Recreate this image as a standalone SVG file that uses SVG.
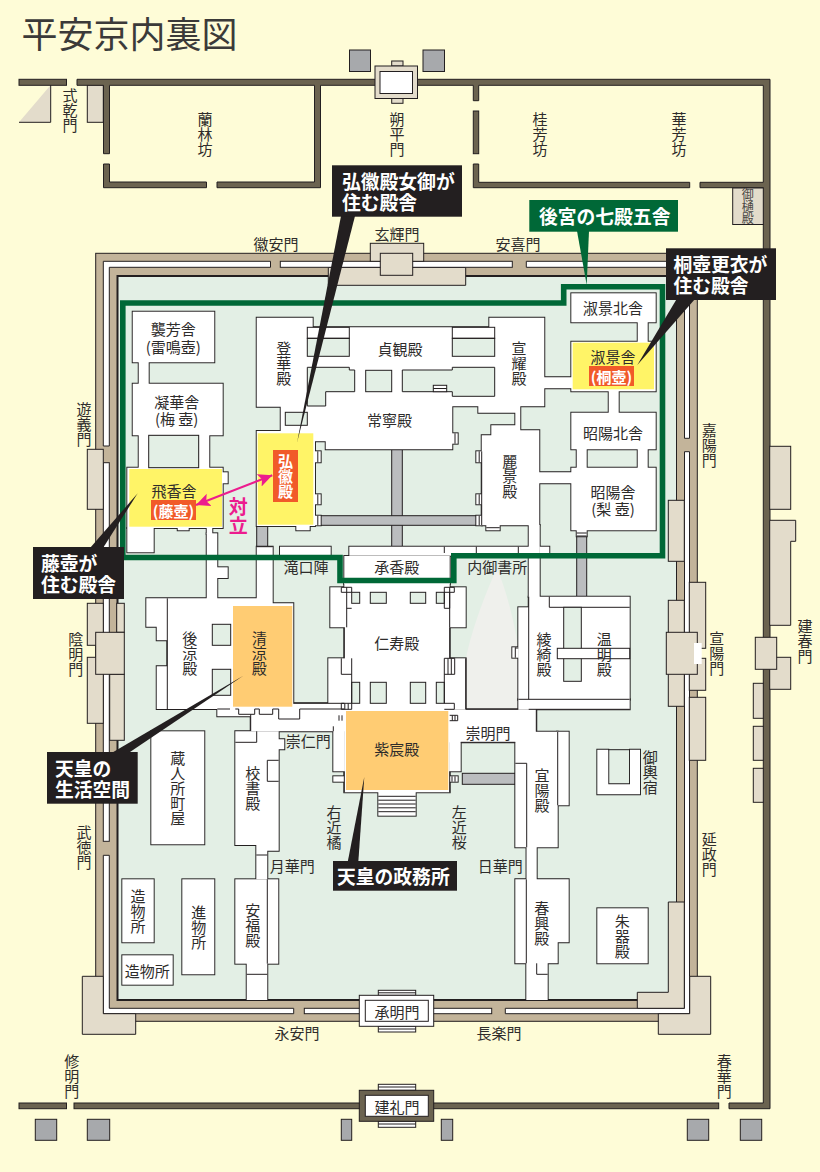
<svg xmlns="http://www.w3.org/2000/svg" width="820" height="1172" viewBox="0 0 820 1172">
<style>
text{font-family:"Noto Sans CJK JP","Noto Sans",sans-serif;font-size:15px;fill:#2e2c2b;text-anchor:middle;dominant-baseline:central}
.v{writing-mode:vertical-rl}
.s{font-size:12px;fill:#4a4845}
.w{fill:#6b6350;stroke:#231f20;stroke-width:1}
.c{fill:#e3dccb;stroke:#231f20;stroke-width:1}
.e{fill:#fff;stroke:#231f20;stroke-width:1}
.g{fill:#a7a9ac;stroke:#231f20;stroke-width:1}
.r{fill:#bbbdbf;stroke:#231f20;stroke-width:1}
.h{fill:#e3efe5;stroke:#231f20;stroke-width:1}
.l{fill:none;stroke:#231f20;stroke-width:1}
.k{fill:#231f20}
.n{fill:#fff;font-size:18.8px;font-weight:700;text-anchor:start}
.m{fill:#fff;font-weight:700}
</style>
<defs>
<marker id="ah" viewBox="0 -7 15 14" markerWidth="15" markerHeight="14" refX="14" refY="0" markerUnits="userSpaceOnUse" orient="auto-start-reverse"><path d="M14,0 L0,-6.5 L3,0 L0,6.5Z" fill="#ec1c8e"/></marker>
<g id="white">
<rect x="132.7" y="311.7" width="81.6" height="50.6"/><rect x="138.7" y="362" width="10" height="22"/><rect x="132.7" y="383.7" width="90" height="51.6"/><rect x="138.7" y="435" width="10.6" height="33"/><rect x="198.7" y="435" width="10.6" height="33"/><rect x="127.3" y="467.7" width="95.4" height="60.3"/><rect x="222" y="472.3" width="5.7" height="11"/><rect x="127.3" y="528" width="26.4" height="24.3"/><rect x="177.7" y="528" width="11" height="2.3"/><rect x="206.7" y="528" width="5.6" height="6"/><rect x="206.7" y="533.3" width="10.6" height="66"/><rect x="217" y="567.3" width="10.7" height="10.7"/>
<path d="M146.3,598.3H256.7V546.7H272.7V603.3H293.3V703.3H345V731.3H250.7V716.3H217.3V709H156.7V666.3H167.3V640.3H156.7V626.7H146.3Z"/>
<rect x="344.3" y="583" width="105.4" height="128"/><rect x="330.3" y="587.3" width="16.4" height="40"/><rect x="346.7" y="587.3" width="5" height="21"/><rect x="449.7" y="587.3" width="16" height="40"/><rect x="328.3" y="658.3" width="23.4" height="45.5"/><rect x="444.3" y="658.3" width="21.4" height="51"/>
<rect x="344.3" y="709" width="105.4" height="83.3"/><rect x="333.3" y="726.3" width="11.4" height="45"/><rect x="449.3" y="726.3" width="11.4" height="45"/><rect x="336" y="715.3" width="9" height="5.4"/><rect x="333.3" y="776.3" width="11.4" height="5.4"/><rect x="449.3" y="776.3" width="8.4" height="5.4"/><rect x="378.3" y="792" width="37.4" height="23.7"/>
<rect x="449" y="709.3" width="87.3" height="33"/><rect x="518.3" y="699.3" width="111.4" height="10"/><rect x="528.7" y="596.7" width="101" height="103"/><rect x="518.3" y="607.3" width="10.7" height="92.5"/><rect x="512.3" y="647.3" width="6.4" height="10.4"/><rect x="528.7" y="525" width="11" height="72"/><rect x="539.4" y="546.7" width="9.9" height="9"/>
<rect x="349.3" y="546.7" width="179.7" height="9"/><rect x="280" y="546.7" width="50.7" height="9"/><rect x="344.3" y="556" width="105.4" height="28"/>
<path d="M256.7,317.7H312.7V327.3H489.3V317.7H544.3V377.3H572V388.3H544.3V406.3H520.3V430.3H539.3V472.3H572V483.3H539.3V525.3H481.7V435.3H491.3V425.3H515.3V412.7H478.3V406.3H452.3V449.3H325.7V441.3H315V431H280.7V406.7H256.7Z"/>
<rect x="256.7" y="431" width="58.3" height="95"/><rect x="315" y="451.3" width="5.7" height="11"/><rect x="315" y="494.3" width="5.7" height="10"/><rect x="315" y="515.7" width="5.7" height="9.6"/><rect x="296.3" y="526" width="13.4" height="4.3"/><rect x="452" y="433.3" width="5.7" height="10.4"/><rect x="476.3" y="451.3" width="5.7" height="11"/><rect x="476.3" y="494.3" width="5.7" height="10"/><rect x="476.3" y="515.7" width="5.7" height="9.6"/><rect x="486.3" y="525" width="13.4" height="5.3"/>
<rect x="571.3" y="293.3" width="84.4" height="29"/><rect x="637.7" y="322" width="10" height="20"/><rect x="571.3" y="341.7" width="84.4" height="49.6"/><rect x="608.7" y="391" width="10" height="22"/><rect x="571.3" y="412.7" width="84.4" height="36.6"/><rect x="576.7" y="449" width="10" height="19"/><rect x="637.7" y="449" width="10" height="19"/><rect x="571.3" y="467.7" width="84.4" height="62.6"/><rect x="576.7" y="530" width="10" height="6.3"/>
<rect x="151.3" y="731.3" width="53" height="113"/>
<path d="M235.3,731.3H278.7V739.3H284.3V749.3H278.7V850.7H267.3V879.3H256.3V845H235.3Z"/>
<rect x="235.3" y="879.3" width="43" height="84.4"/><rect x="246.7" y="963" width="20.6" height="37"/>
<rect x="122.3" y="879.3" width="31.4" height="63"/><rect x="122.3" y="955.3" width="50.4" height="29.4"/><rect x="182.3" y="879.3" width="32" height="95"/>
<rect x="515.3" y="731.7" width="42.4" height="115.6"/><rect x="557" y="731.7" width="11.7" height="73.6"/><rect x="526.5" y="847" width="10.2" height="33"/>
<path d="M515.3,879.3H568.7V942.3H557.7V963.3H547.7V1000H526.3V963.3H515.3Z"/>
<rect x="597.3" y="908.3" width="50.4" height="55"/>
<path d="M597.3,749.7H608.3V784.3H630V749.7H640V794.3H597.3Z"/>
</g>
</defs>
<rect id="background" width="820" height="1172" fill="#fefcd7"/>
<text x="129.5" y="32" style="font-size:36px;fill:#3b3a39">平安京内裏図</text>

<g id="outer-wall">
<path d="M19,122.3 L50.7,85 V122.3Z" fill="#e3dccb"/>
<path class="l" d="M50.7,85V122.3H19"/>
<rect class="c" x="87.3" y="85" width="16" height="37.3"/>
<rect class="w" x="19" y="79.3" width="47.5" height="6"/>
<path class="w" d="M77,79.3H380V85.3H320.5V187.7H217V182H314.5V85.3H109.5V153.7H103.5V85.3H77Z"/>
<path class="w" d="M103.5,164H109.5V182H206.5V187.7H103.5Z"/>
<path class="w" d="M415,79.3H770V1108.7H729V1103H763.3V187.7H700V182.3H763.3V85.3H478.7V100.7H473.3V85.3H415Z"/>
<rect class="w" x="473.3" y="111" width="5.4" height="42.7"/>
<path class="w" d="M473.3,164H478.7V182.3H689.7V187.7H473.3Z"/>
<rect class="w" x="19" y="1103" width="47.5" height="5.7"/>
<rect class="w" x="74" y="1103" width="644.7" height="5.7"/>
<rect class="c" x="732.7" y="188" width="30.6" height="36.5"/>
<rect class="g" x="349.5" y="50" width="21" height="21.5"/><rect class="g" x="423" y="50" width="21.5" height="21.5"/>
<rect class="c" x="391.7" y="61" width="11.3" height="5"/><rect class="c" x="391.7" y="98.3" width="11.3" height="5"/>
<rect class="c" x="375" y="66" width="42.5" height="32.5"/><rect class="e" x="380" y="71.5" width="32.5" height="22"/>
<rect class="g" x="35.3" y="1119.3" width="21.4" height="21"/><rect class="g" x="87.3" y="1119.3" width="22.4" height="21"/><rect class="g" x="341.3" y="1119.3" width="10.4" height="21"/><rect class="g" x="441.3" y="1119.3" width="11.4" height="21"/><rect class="g" x="687.3" y="1119.3" width="21.4" height="21"/><rect class="g" x="740.3" y="1119.3" width="21.4" height="21"/>
<rect class="c" x="769.7" y="446.3" width="21" height="63"/>
<path class="c" d="M769.7,520.3H795.7V541.3H790.7V625.3H769.7Z"/>
<rect class="c" x="769.7" y="657.3" width="21" height="32"/>
<rect class="c" x="755.3" y="637.3" width="21.4" height="32"/>
<rect class="c" x="753.3" y="683.3" width="10" height="35"/><rect class="c" x="753.3" y="726.3" width="10" height="34"/><rect class="c" x="753.3" y="768.3" width="10" height="34"/>
</g>

<g id="compound">
<rect x="95.7" y="253.3" width="601.6" height="768" fill="#c3b49a" stroke="#231f20"/>
<rect x="117.5" y="276" width="559" height="724" fill="#e3efe5"/>
<path d="M676.5,276H117.5V1000H676.5" fill="none" stroke="#231f20" stroke-width="2"/>
<path class="l" d="M676.5,276V1000"/>
<path class="c" d="M328.3,267.5H465.7V285.3H328.3Z"/>
<path class="e" d="M270.5,261.3H103.3V446H109.3V267.3H270.5Z"/>
<rect class="e" x="280.3" y="261.3" width="232" height="6"/>
<path class="e" d="M526.3,261.3H689.5V438.3H684.5V267.3H526.3Z"/>
<path class="e" d="M684.5,451.7H689.5V1013.7H505.3V1008.3H684.5Z"/>
<path class="e" d="M103.3,855.3H109.3V1008.3H293.7V1013.7H103.3Z"/>
<rect class="e" x="103.3" y="462.7" width="6" height="378.6"/>
<rect class="e" x="304.3" y="1008.3" width="187.4" height="5.4"/>
<rect class="c" x="370.3" y="243.3" width="53.4" height="18"/><rect class="c" x="380.3" y="253.3" width="32.4" height="22"/>
<rect class="c" x="87.3" y="449.3" width="16" height="60"/><rect class="c" x="87.3" y="603.3" width="16" height="42"/><rect class="c" x="116.7" y="603.3" width="7.6" height="29"/><rect class="c" x="87.3" y="657.3" width="16" height="66"/><rect class="c" x="109.7" y="674.3" width="14.6" height="66"/><rect class="c" x="95.7" y="632.3" width="28.6" height="42"/>
<rect class="c" x="668.3" y="500.3" width="16" height="61"/><rect class="c" x="689.3" y="582.3" width="16.4" height="66"/><rect class="c" x="668.3" y="600.3" width="16" height="40"/><rect class="c" x="689.3" y="658.3" width="16.4" height="32"/><rect class="c" x="668.3" y="670" width="16" height="36.3"/><rect class="c" x="689.3" y="697.3" width="16.4" height="63"/><rect class="c" x="666.3" y="632.3" width="31" height="42"/><rect x="694" y="643" width="7.7" height="21" fill="#fff"/>
<path class="c" d="M82.3,976.3H103.3V1013.7H135.7V1034.3H82.3Z"/>
<path class="c" d="M658.3,1013.7V1034.3H710.7V976.3H689.7V1013.7Z"/>
<path class="c" d="M637.3,992.3H668.3V902H684.3V1008.3H637.3Z"/>
<rect class="e" x="378.3" y="990.3" width="37.4" height="5"/><rect class="e" x="378.3" y="1026.3" width="37.4" height="5.7"/>
<rect class="e" x="359.3" y="995.3" width="74.4" height="31"/><rect class="e" x="365.3" y="1000.3" width="63" height="21"/>
<rect class="e" x="378.3" y="1084.3" width="37.4" height="6"/><rect class="e" x="378.3" y="1121.3" width="37.4" height="6"/>
<rect class="w" x="359.3" y="1090.3" width="74.4" height="31"/><rect class="e" x="365.3" y="1095.3" width="63" height="21"/>
<path class="l" d="M378.3,992.8H415.7M378.3,1029H415.7M378.3,1087H415.7M378.3,1124H415.7"/>
</g>

<g id="corridors-grey">
<rect class="r" x="391.7" y="449.3" width="10.6" height="97.4"/><rect class="r" x="320" y="515.7" width="162" height="9.6"/><rect class="r" x="256.7" y="525" width="11" height="21.7"/><rect class="r" x="576.7" y="536" width="10" height="60.7"/><rect class="r" x="462.3" y="773.3" width="53" height="11"/>
<path d="M497,568C506,590 515,622 520,660V709H466V658C472,628 486,592 497,568Z" fill="#eff0ec"/>
</g>

<g id="buildings">
<use href="#white" fill="none" stroke="#231f20" stroke-width="1.9"/>
<use href="#white" fill="#fff"/>
<rect class="h" x="148.7" y="435.3" width="50" height="32.4"/>
<rect x="129.3" y="469" width="92.7" height="57.7" fill="#fff467"/>
<rect x="257.7" y="433.3" width="55.6" height="91.4" fill="#fff467"/>
<rect x="572.7" y="342.7" width="81.3" height="46.6" fill="#fff467"/>
<rect x="233" y="606" width="59.3" height="100.7" fill="#ffcc73"/>
<rect x="346" y="711" width="102.3" height="79" fill="#ffcc73"/>
<rect class="h" x="212.3" y="624.3" width="18.4" height="21"/><rect class="h" x="212.3" y="669.3" width="18.4" height="26"/>
<rect class="h" x="307.3" y="338.3" width="42" height="18"/><rect class="l" x="307.3" y="327.3" width="42" height="11"/>
<path class="h" d="M307.3,367.3H349.3V370H354.7V391.7H325.7V406H307.3Z"/>
<rect class="h" x="285.3" y="412.3" width="22" height="13"/>
<rect class="h" x="365.7" y="370.3" width="26" height="21.4"/>
<rect class="h" x="452.3" y="338.3" width="42.4" height="18"/><rect class="l" x="452.3" y="327.3" width="42.4" height="11"/>
<path class="h" d="M402.3,370H452.3V367.3H494.7V396.3H452.3V391.7H402.3Z"/>
<rect class="e" x="433.3" y="385.3" width="13.4" height="6.4"/>
<path class="l" d="M433.3,388.5H446.7M317.8,451.3V462.3M317.8,494.3V504.3M317.8,515.7V525.3M455,433.3V443.7M479.2,451.3V462.3M479.2,494.3V504.3M479.2,515.7V525.3M481.7,451.3V525.3M486.3,527.7H499.7"/>
<rect class="h" x="351.7" y="592.3" width="8" height="11"/><rect class="h" x="370.3" y="592.3" width="16" height="11"/><rect class="h" x="410.3" y="592.3" width="15.4" height="11"/><rect class="h" x="436.3" y="592.3" width="8" height="11"/>
<rect class="h" x="351.7" y="682.3" width="8" height="21"/><rect class="h" x="370.3" y="682.3" width="16" height="21"/><rect class="h" x="410.3" y="682.3" width="15.4" height="21"/><rect class="h" x="436.3" y="682.3" width="8" height="21"/>
<path class="l" d="M346.7,587.3V627.3M346.7,608.3H351.7M341.3,587.3H351.7V592.3H341.3ZM449.7,587.3V627.3M444.3,608.3H449.7V592.3M444.3,587.3H454.3V592.3H444.3ZM444.3,592.3V608.3M351.7,658.3V703.3M341.3,658.3V674.3H351.7M444.3,658.3V703.3M444.3,658.3H454.7V674.3H444.3M448,658.3V674.3M451.3,658.3V674.3M444.3,703.3H454.3V709.3H444.3M341.3,703.3H351.7V709.3H341.3V703.3M344.8,703.3V709.3M348.2,703.3V709.3M344.3,627.3V658.3M449.7,627.3V658.3"/>
<path class="l" d="M167.3,598.3V709M293.3,703.3H344.3M230,709H217.3M235.3,709H238.7V714.3H254.7V709H259.3V714.3H272.7V709H278.7V719H299.7V709H344.3M250.7,714.3V731M333.3,731.3V726.3"/>
<path class="l" d="M339,715.3V720.7M342,715.3V720.7M449.7,715.3H457.7V720.7H449.7M452.3,715.3V720.7M455,715.3V720.7M452,776.3V781.7M455,776.3V781.7M344.3,771.3V792.3M449.7,771.3V792.3M460.7,742.3H515.3M536.3,709.3V731.7M465.7,709.3H518.3M465.7,658.3V709.3M608.3,749.7H630"/>
<path class="l" d="M378.3,796.3H415.7M378.3,800.2H415.7M378.3,804H415.7M378.3,807.8H415.7M378.3,811.7H415.7"/>
<path class="l" d="M528.7,596.7V699.3M518.3,699.3H629.7M549.3,596.7V607.3H629.7M515.3,648H518.3M515.3,657.7V647.3M526.7,763.3V847.3M515.3,763.3H526.7M557.7,731.7V805.3M528.7,709.3H629.7"/>
<rect class="h" x="563.7" y="607.3" width="17.6" height="74"/>
<rect class="e" x="557.3" y="648.3" width="72.4" height="10.4"/>
<path class="l" d="M444.3,546.7V553M476.3,546.7V553M518.3,546.7V553M256.7,546.7H272.7M576.7,536H586.7M576.7,533H586.7M235.3,742.3H256.7V731.3M267.3,760.3V781.3H278.7M267.3,760.3H278.7M256.3,855H267.3M267.3,879.3V963.7M246.7,974.3H267.3M526.3,879.3V963.3M536.7,963.3V974.3H547.7"/>
</g>

<path id="seven-halls" d="M122.8,303H563.7V286.8H662.5V555.8H453.8V580.5H340V557.5H122.8Z" fill="none" stroke="#006837" stroke-width="5.6"/>

<g id="labels">
<text class="v" x="70" y="110">式乾門</text><text class="v" x="205" y="134">蘭林坊</text><text class="v" x="397" y="134">朔平門</text><text class="v" x="540" y="134">桂芳坊</text><text class="v" x="679" y="134">華芳坊</text><text class="v s" x="747.7" y="206.5">御樋殿</text>
<text x="276" y="243">徽安門</text><text x="397" y="233">玄輝門</text><text x="518" y="243">安喜門</text>
<text x="173.3" y="328.3">襲芳舎<tspan x="173.3" dy="17.4">(雷鳴壺)</tspan></text>
<text x="176.7" y="401.7">凝華舎<tspan x="176.7" dy="16.6">(梅 壺)</tspan></text>
<text x="174" y="490">飛香舎</text>
<text class="v" x="283.7" y="363">登華殿</text><text x="400" y="348.7">貞観殿</text><text x="389.5" y="419.3">常寧殿</text><text class="v" x="519" y="363">宣耀殿</text><text class="v" x="509.7" y="476">麗景殿</text>
<text x="613" y="307.3">淑景北舎</text><text x="613" y="356.7">淑景舎</text><text x="613" y="432.7">昭陽北舎</text><text x="613" y="491">昭陽舎<tspan x="613" dy="17.3">(梨 壺)</tspan></text>
<text x="306" y="566.7">滝口陣</text><text x="396.7" y="566.7">承香殿</text><text x="497.3" y="566.7">内御書所</text>
<text x="396.7" y="642.3">仁寿殿</text><text x="396.7" y="748.3">紫宸殿</text>
<text class="v" x="544" y="654">綾綺殿</text><text class="v" x="604.3" y="654">温明殿</text><text class="v" x="542" y="790">宜陽殿</text>
<text x="488" y="732.7">崇明門</text><text x="308.3" y="740.7">崇仁門</text>
<text class="v" x="189.7" y="653">後涼殿</text><text class="v" x="259.3" y="653">清涼殿</text><text class="v" x="177.7" y="788.5">蔵人所町屋</text><text class="v" x="252.7" y="788.5">校書殿</text>
<text class="v" x="334" y="827">右近橘</text><text class="v" x="459.3" y="827">左近桜</text>
<text x="292.3" y="865.7">月華門</text><text x="500.3" y="865.7">日華門</text><text class="v" x="650.3" y="772.5">御輿宿</text>
<text class="v" x="138" y="911">造物所</text><text x="147.3" y="970">造物所</text><text class="v" x="198.7" y="927">進物所</text><text class="v" x="252.7" y="925">安福殿</text><text class="v" x="541.7" y="923.5">春興殿</text><text class="v" x="622.3" y="936">朱器殿</text>
<text x="397" y="1011">承明門</text><text x="397" y="1106.3">建礼門</text><text x="297" y="1032.3">永安門</text><text x="499" y="1032.3">長楽門</text>
<text class="v" x="71.7" y="1076">修明門</text><text class="v" x="724.3" y="1076">春華門</text>
<text class="v" x="84" y="424">遊義門</text><text class="v" x="75.7" y="654">陰明門</text><text class="v" x="84" y="847">武徳門</text>
<text class="v" x="709.3" y="445.5">嘉陽門</text><text class="v" x="716.7" y="653.5">宣陽門</text><text class="v" x="805" y="641.5">建春門</text><text class="v" x="709.3" y="854">延政門</text>
</g>

<g id="red-labels">
<rect x="273" y="450" width="25" height="52" fill="#f15a29"/><text class="v m" x="285.5" y="476">弘徽殿</text>
<rect x="151" y="500" width="45" height="20" fill="#f15a29"/><text class="m" x="173.5" y="510">(藤壺)</text>
<rect x="589" y="366" width="45" height="20" fill="#f15a29"/><text class="m" x="611.5" y="376">(桐壺)</text>
</g>

<g id="connectors">
<polygon class="k" points="341,216 355,216 297,442.7"/>
<polygon fill="#006837" points="577,231 589,231 586.7,285"/>
<polygon class="k" points="676.7,299 695,299 637.3,365"/>
<polygon class="k" points="90,548 103,548 137.7,493.3"/>
<polygon class="k" points="113.3,752 130,752 243.3,675.7"/>
<polygon class="k" points="347.7,862 358.3,862 364.3,776.7"/>
<line x1="196" y1="505" x2="272.3" y2="475.3" stroke="#ec1c8e" stroke-width="2" marker-start="url(#ah)" marker-end="url(#ah)"/>
</g>
<text class="v" x="238.3" y="516" style="font-size:19px;font-weight:700;fill:#ec1c8e">対立</text>

<g id="callout-kokiden"><rect class="k" x="332" y="165.3" width="130" height="51.4"/><text class="n" x="342" y="180">弘徽殿女御が<tspan x="342" dy="21">住む殿舎</tspan></text></g>
<g id="callout-koukyu"><rect x="529.3" y="200" width="148.7" height="31.7" fill="#006837"/><text class="n" x="539" y="215.5">後宮の七殿五舎</text></g>
<g id="callout-kiritsubo"><rect class="k" x="666" y="248.3" width="110" height="51.7"/><text class="n" x="673.5" y="263">桐壺更衣が<tspan x="673.5" dy="21">住む殿舎</tspan></text></g>
<g id="callout-fujitsubo"><rect class="k" x="33" y="547" width="91" height="52"/><text class="n" x="41" y="562">藤壺が<tspan x="41" dy="21">住む殿舎</tspan></text></g>
<g id="callout-seikatsu"><rect class="k" x="47" y="752" width="90.7" height="51.7"/><text class="n" x="55" y="767">天皇の<tspan x="55" dy="21">生活空間</tspan></text></g>
<g id="callout-seimu"><rect class="k" x="333" y="861" width="124" height="29.7"/><text class="n" x="337" y="875.5">天皇の政務所</text></g>
</svg>
